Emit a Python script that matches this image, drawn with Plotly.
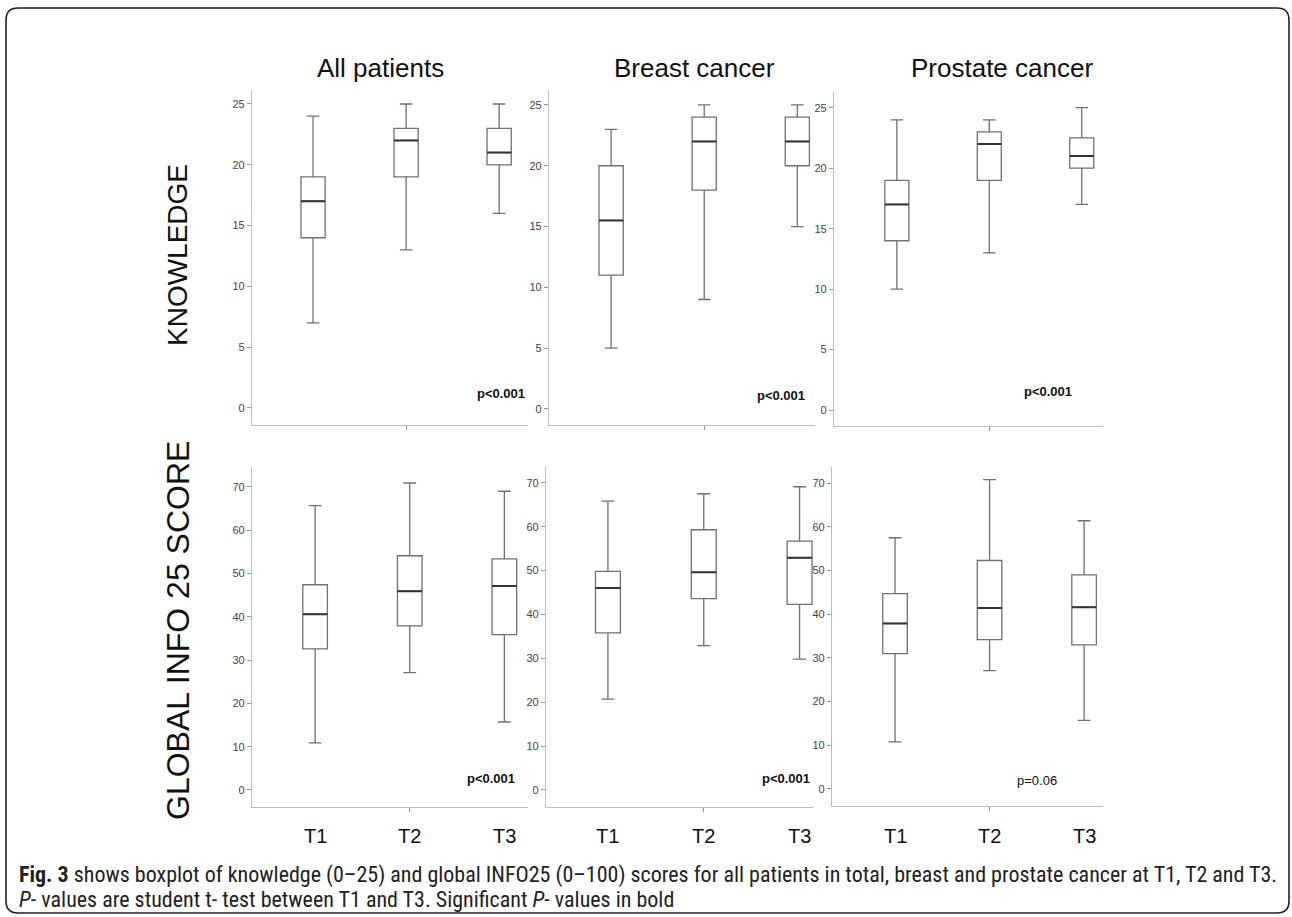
import plotly.graph_objects as go

W, H = 1292, 917

times = ["T1", "T2", "T3"]
groups = ["All patients", "Breast cancer", "Prostate cancer"]
rows = ["KNOWLEDGE", "GLOBAL INFO 25 SCORE"]

# ---- Knowledge (0-25) ----
know_all_low = [7, 13, 16]
know_all_q1 = [14, 19, 20]
know_all_med = [17, 22, 21]
know_all_q3 = [19, 23, 23]
know_all_high = [24, 25, 25]

know_breast_low = [5, 9, 15]
know_breast_q1 = [11, 18, 20]
know_breast_med = [15.5, 22, 22]
know_breast_q3 = [20, 24, 24]
know_breast_high = [23, 25, 25]

know_prostate_low = [10, 13, 17]
know_prostate_q1 = [14, 19, 20]
know_prostate_med = [17, 22, 21]
know_prostate_q3 = [19, 23, 22.5]
know_prostate_high = [24, 24, 25]

# ---- Global INFO25 (0-100) ----
info_all_low = [10.9, 27.1, 15.7]
info_all_q1 = [32.6, 37.9, 35.9]
info_all_med = [40.6, 45.9, 47.1]
info_all_q3 = [47.4, 54.1, 53.4]
info_all_high = [65.7, 70.9, 69.0]

info_breast_low = [20.7, 32.9, 29.8]
info_breast_q1 = [35.8, 43.6, 42.3]
info_breast_med = [46.0, 49.6, 52.9]
info_breast_q3 = [49.8, 59.3, 56.7]
info_breast_high = [65.8, 67.5, 69.1]

info_prostate_low = [10.8, 27.1, 15.7]
info_prostate_q1 = [31.0, 34.2, 33.0]
info_prostate_med = [37.9, 41.4, 41.6]
info_prostate_q3 = [44.7, 52.3, 49.0]
info_prostate_high = [57.5, 70.8, 61.4]

p_values = ["p<0.001", "p<0.001", "p<0.001", "p<0.001", "p<0.001", "p=0.06"]
p_bold = [True, True, True, True, True, False]

panels = [
    (know_all_low, know_all_q1, know_all_med, know_all_q3, know_all_high),
    (know_breast_low, know_breast_q1, know_breast_med, know_breast_q3, know_breast_high),
    (know_prostate_low, know_prostate_q1, know_prostate_med, know_prostate_q3, know_prostate_high),
    (info_all_low, info_all_q1, info_all_med, info_all_q3, info_all_high),
    (info_breast_low, info_breast_q1, info_breast_med, info_breast_q3, info_breast_high),
    (info_prostate_low, info_prostate_q1, info_prostate_med, info_prostate_q3, info_prostate_high),
]

# layout geometry in pixels: (x0, x1, y0, y1, xrange, yrange)
geom = [
    (252, 528, 90, 425, [-0.656, 2.31], [-1.4, 26.15]),
    (549, 815, 90, 425, [-0.667, 2.19], [-1.32, 26.23]),
    (834, 1103, 92, 426, [-0.68, 2.23], [-1.32, 26.3]),
    (252, 528, 467, 807, [-0.667, 2.25], [-3.93, 74.6]),
    (546, 813, 467, 807, [-0.646, 2.14], [-3.9, 73.6]),
    (832, 1103, 467, 806, [-0.667, 2.2], [-3.9, 73.7]),
]


def px(x):
    return x / W


def py(y):
    return 1 - y / H


FONT = "Liberation Sans, Arial, sans-serif"
fig = go.Figure()
layout = dict(
    width=W, height=H,
    margin=dict(l=0, r=0, t=0, b=0),
    paper_bgcolor="white", plot_bgcolor="white",
    showlegend=False, boxmode="overlay",
    font=dict(family=FONT, color="#333"),
)

for i, (vals, g) in enumerate(zip(panels, geom)):
    low, q1, med, q3, high = vals
    x0, x1, y0, y1, xr, yr = g
    sfx = "" if i == 0 else str(i + 1)
    xa, ya = "x" + sfx, "y" + sfx
    fig.add_trace(go.Box(
        x=times, q1=q1, median=med, q3=q3, lowerfence=low, upperfence=high,
        xaxis=xa, yaxis=ya, boxpoints=False, width=0.26, whiskerwidth=0.52,
        fillcolor="rgba(0,0,0,0)", line=dict(color="#707070", width=1.3),
        hoverinfo="skip",
    ))
    # darker median line
    fig.add_trace(go.Box(
        x=times, q1=med, median=med, q3=med, lowerfence=med, upperfence=med,
        xaxis=xa, yaxis=ya, boxpoints=False, width=0.26, whiskerwidth=0,
        fillcolor="rgba(0,0,0,0)", line=dict(color="#333333", width=2),
        hoverinfo="skip",
    ))
    is_top = i < 3
    layout["xaxis" + sfx] = dict(
        domain=[px(x0), px(x1)], anchor=ya, type="category",
        range=xr, showgrid=False, zeroline=False,
        showline=True, linecolor="#bdbdbd", linewidth=1.3,
        tickvals=["T2"], ticks="outside", ticklen=4, tickcolor="#999",
        showticklabels=False, fixedrange=True,
    )
    layout["yaxis" + sfx] = dict(
        domain=[py(y1), py(y0)], anchor=xa,
        range=yr, dtick=5 if is_top else 10, tick0=0,
        showgrid=False, zeroline=False,
        showline=True, linecolor="#bdbdbd", linewidth=1.3,
        ticks="outside", ticklen=4, tickcolor="#999",
        tickfont=dict(size=11, color="#444", family=FONT),
        fixedrange=True,
    )

annotations = []
# column titles
for name, cx in zip(groups, [380, 694, 1002]):
    annotations.append(dict(text=name, x=px(cx), y=py(68), xref="paper", yref="paper",
                            showarrow=False, xanchor="center", yanchor="middle",
                            font=dict(size=26, color="#111", family=FONT)))
# row labels
for name, cy, sz in zip(rows, [255, 631], [28, 32]):
    annotations.append(dict(text=name, x=px(178), y=py(cy), xref="paper", yref="paper",
                            showarrow=False, textangle=-90, xanchor="center", yanchor="middle",
                            font=dict(size=sz, color="#111", family=FONT)))
# time labels under bottom row
for k in range(3, 6):
    sfx = str(k + 1)
    for j, t in enumerate(times):
        annotations.append(dict(text=t, x=j, y=py(836), xref="x" + sfx, yref="paper",
                                showarrow=False, xanchor="center", yanchor="middle",
                                font=dict(size=20, color="#111", family=FONT)))
# p-values
p_pos = [(527, 393), (807, 395), (1074, 391), (517, 778), (812, 778), (1059, 780)]
for txt, bold, (rx, cy) in zip(p_values, p_bold, p_pos):
    annotations.append(dict(text=("<b>%s</b>" % txt) if bold else txt,
                            x=px(rx), y=py(cy), xref="paper", yref="paper",
                            showarrow=False, xanchor="right", yanchor="middle",
                            font=dict(size=13, color="#111", family=FONT)))
# caption
CAP = "Liberation Sans Narrow, Arial Narrow, Roboto Condensed, sans-serif"
cap1 = ("<b>Fig. 3</b> shows boxplot of knowledge (0–25) and global INFO25 (0–100) scores "
        "for all patients in total, breast and prostate cancer at T1, T2 and T3.")
cap2 = "<i>P</i>- values are student t- test between T1 and T3. Significant <i>P</i>- values in bold"
for txt, cy in [(cap1, 875), (cap2, 899)]:
    annotations.append(dict(text=txt, x=px(17), y=py(cy), xref="paper", yref="paper",
                            showarrow=False, xanchor="left", yanchor="middle",
                            font=dict(size=22, color="#222", family=CAP)))
layout["annotations"] = annotations

# rounded frame
l, r, t, b, rad = px(6), px(1289), py(8), py(913), 12
rx_, ry_ = rad / W, rad / H
path = (f"M {l + rx_},{t} L {r - rx_},{t} Q {r},{t} {r},{t - ry_} "
        f"L {r},{b + ry_} Q {r},{b} {r - rx_},{b} L {l + rx_},{b} "
        f"Q {l},{b} {l},{b + ry_} L {l},{t - ry_} Q {l},{t} {l + rx_},{t} Z")
layout["shapes"] = [dict(type="path", path=path, xref="paper", yref="paper",
                         line=dict(color="#222", width=1.6))]

fig.update_layout(**layout)
fig.write_html("out.html", config={"displayModeBar": False},
               post_script="document.body.style.margin='0';document.body.style.overflow='hidden';")
